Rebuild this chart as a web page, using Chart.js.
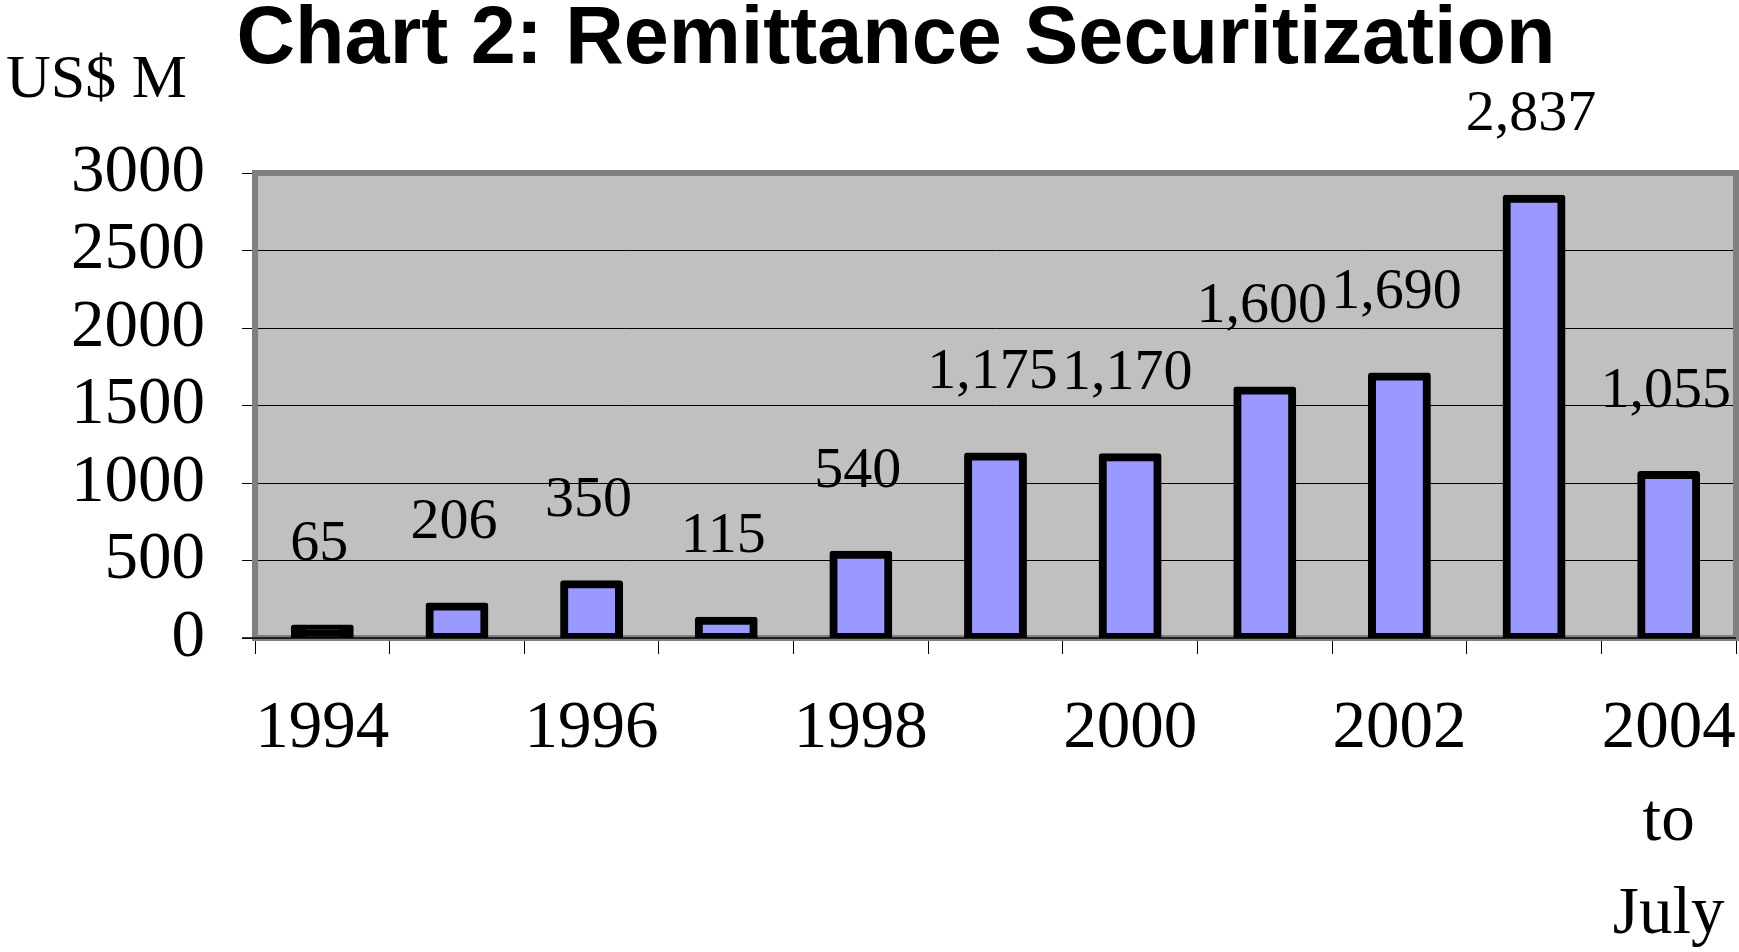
<!DOCTYPE html>
<html>
<head>
<meta charset="utf-8">
<script src="https://cdn.jsdelivr.net/npm/chart.js@4.4.1/dist/chart.umd.min.js"></script>
<style>
  html, body { margin: 0; padding: 0; background: #ffffff; }
  canvas { display: block; }
</style>
</head>
<body>
<canvas id="c" width="1739" height="952"></canvas>
<script>
const categories = ['1994','1995','1996','1997','1998','1999','2000','2001','2002','2003',['2004','to','July']];
const values = [65, 206, 350, 115, 540, 1175, 1170, 1600, 1690, 2837, 1055];
const yTicks = [0, 500, 1000, 1500, 2000, 2500, 3000];
const titleText = 'Chart 2: Remittance Securitization';
const unitText = 'US$ M';

const BAR_FILL = '#9999ff';
const BAR_BORDER = 8;

const plotPlugin = {
  id: 'plotDecor',
  beforeDraw(chart) {
    const a = chart.chartArea, ctx = chart.ctx;
    ctx.save();
    ctx.fillStyle = '#ffffff';
    ctx.fillRect(0, 0, chart.width, chart.height);
    ctx.fillStyle = '#c0c0c0';
    ctx.fillRect(a.left, a.top, a.right - a.left, a.bottom - a.top);
    ctx.restore();
  },
  beforeDatasetsDraw(chart) {
    const a = chart.chartArea, ctx = chart.ctx;
    ctx.save();
    ctx.strokeStyle = '#808080';
    ctx.lineWidth = 6;
    ctx.strokeRect(a.left, a.top, a.right - a.left, a.bottom - a.top);
    ctx.strokeStyle = '#000000';
    ctx.lineWidth = 1.5;
    ctx.beginPath();
    ctx.moveTo(a.left - 13, a.bottom);
    ctx.lineTo(a.right, a.bottom);
    ctx.stroke();
    ctx.restore();
  },
  afterDatasetsDraw(chart) {
    const ctx = chart.ctx;
    const meta = chart.getDatasetMeta(0);
    ctx.save();
    ctx.fillStyle = '#000000';
    ctx.font = "58px 'Liberation Serif', 'Times New Roman', serif";
    ctx.textAlign = 'center';
    ctx.textBaseline = 'middle';
    meta.data.forEach((bar, i) => {
      const v = chart.data.datasets[0].data[i];
      ctx.fillText(v.toLocaleString('en-US'), bar.x - 3, bar.y - 83);
    });
    ctx.font = "62px 'Liberation Serif', 'Times New Roman', serif";
    ctx.textAlign = 'left';
    ctx.fillText(unitText, 6, 81);
    ctx.restore();
  }
};

new Chart(document.getElementById('c'), {
  type: 'bar',
  data: {
    labels: categories,
    datasets: [{
      data: values,
      backgroundColor: function(c) {
        const y = c.chart.scales && c.chart.scales.y;
        if (!y || c.raw == null) return BAR_FILL;
        const h = y.getPixelForValue(0) - y.getPixelForValue(c.raw);
        return h <= 2 * BAR_BORDER ? '#000000' : BAR_FILL;
      },
      borderColor: '#000000',
      borderWidth: BAR_BORDER,
      borderSkipped: false,
      borderRadius: 3,
      inflateAmount: 3.5,
      categoryPercentage: 1.0,
      barPercentage: 0.415
    }]
  },
  options: {
    responsive: false,
    animation: false,
    devicePixelRatio: 1,
    layout: { padding: { left: 56, right: 3, top: 0, bottom: 0 } },
    plugins: {
      legend: { display: false },
      tooltip: { enabled: false },
      title: {
        display: true,
        text: titleText,
        color: '#000000',
        font: { family: "'Liberation Sans', Arial, sans-serif", size: 81, weight: 'bold', lineHeight: 1.0 },
        padding: { top: 0, bottom: 92 }
      }
    },
    scales: {
      x: {
        grid: { display: true, drawOnChartArea: false, drawTicks: true, tickLength: 16, color: '#000000', lineWidth: 1, offset: true },
        border: { display: false },
        ticks: {
          autoSkip: false,
          maxRotation: 0,
          padding: 29,
          color: '#000000',
          font: { family: "'Liberation Serif', 'Times New Roman', serif", size: 67, lineHeight: 1.39 },
          callback: function(val, idx) { return idx % 2 === 0 ? this.getLabelForValue(val) : ''; }
        },
        afterFit(scale) { scale.height = 314; scale.paddingLeft = 0; scale.paddingRight = 0; }
      },
      y: {
        min: 0,
        max: 3000,
        afterBuildTicks(scale) { scale.ticks = yTicks.map(v => ({ value: v })); },
        grid: { color: '#000000', lineWidth: 1, tickLength: 13, drawTicks: true },
        border: { display: false },
        ticks: {
          autoSkip: false,
          stepSize: 500,
          padding: 37,
          color: '#000000',
          font: { family: "'Liberation Serif', 'Times New Roman', serif", size: 67, lineHeight: 1.0 },
          callback: (v) => String(v)
        },
        afterFit(scale) { scale.width = 199; scale.paddingTop = 0; scale.paddingBottom = 0; }
      }
    }
  },
  plugins: [plotPlugin]
});
</script>
</body>
</html>
